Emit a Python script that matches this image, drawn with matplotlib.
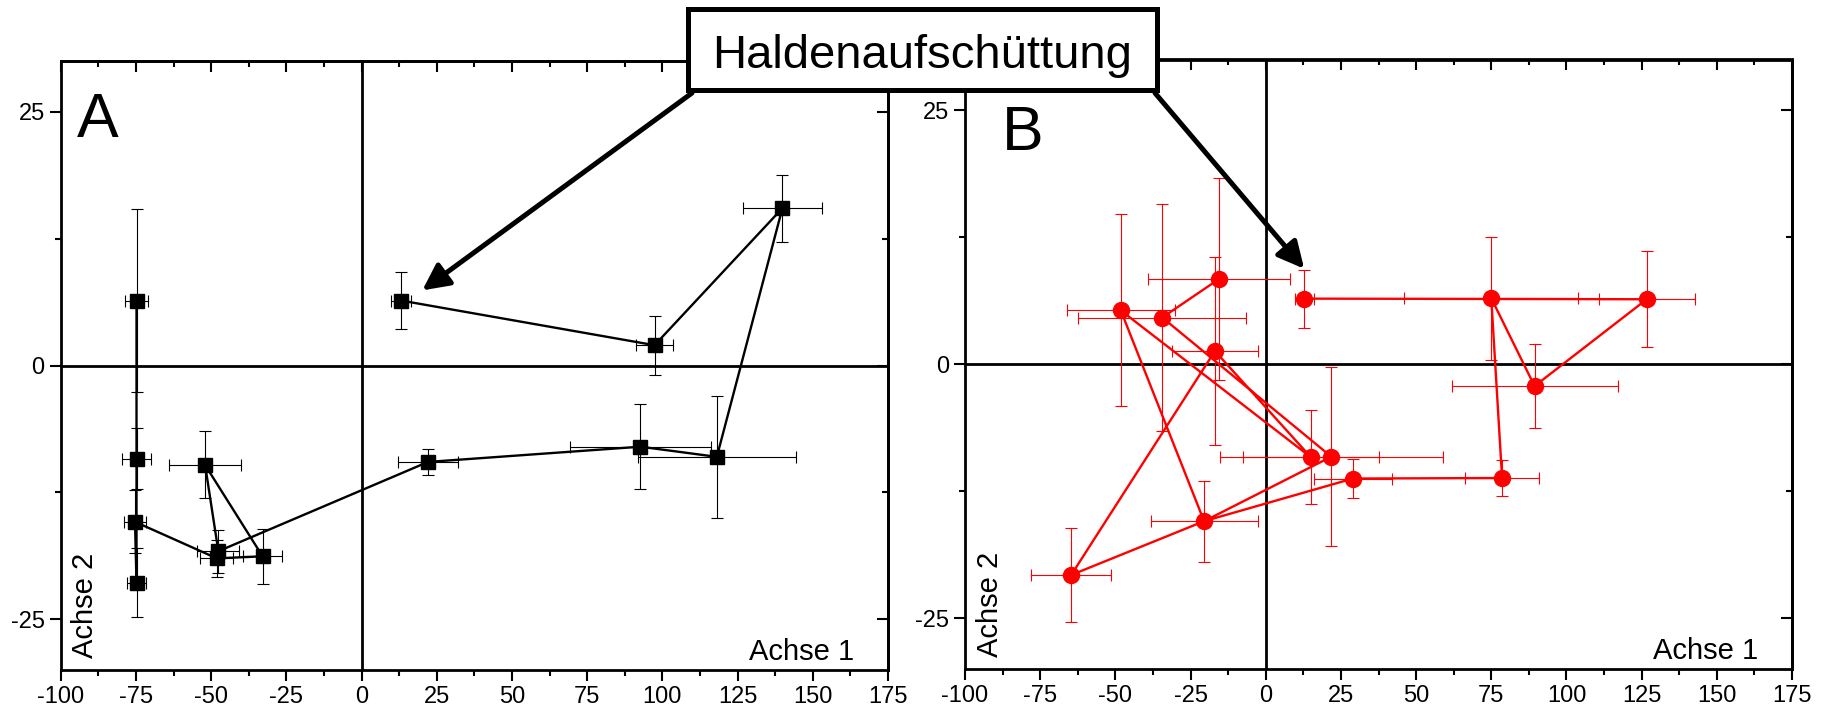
import matplotlib
matplotlib.use("Agg")
import matplotlib.pyplot as plt
from matplotlib import font_manager
from matplotlib.patches import Rectangle
from matplotlib.ticker import MultipleLocator

# panel A (black squares)
a_x = [-74.8, -74.8, -75.3, -74.8, -52.0, -47.6, -48.1, -32.9, 22.1, 92.7, 118.1, 139.9, 97.4, 13.1]
a_y = [6.4, -9.2, -15.4, -21.4, -9.8, -18.3, -19.0, -18.8, -9.5, -8.0, -9.0, 15.5, 2.0, 6.4]
a_xerr = [3.9, 4.7, 3.7, 3.0, 12.0, 7.0, 5.5, 6.6, 10.1, 23.3, 26.2, 13.0, 6.2, 3.4]
a_yerr = [9.0, 3.0, 3.1, 3.4, 3.3, 2.1, 1.8, 2.7, 1.3, 4.2, 6.0, 3.3, 2.9, 2.85]
a_order = [0, 1, 3, 2, 6, 7, 4, 5, 8, 9, 10, 11, 12, 13]

# panel B (red circles)
b_x = [12.8, 75.0, 126.7, 89.4, 78.6, 29.0, 21.8, 15.0, -20.5, -64.7, -16.9, -15.5, -48.2, -34.4]
b_y = [6.46, 6.5, 6.4, -2.15, -11.2, -11.25, -9.1, -9.15, -15.45, -20.75, 1.3, 8.4, 5.3, 4.6]
b_xerr = [3.1, 29.0, 16.0, 27.6, 12.2, 13.0, 37.1, 22.7, 17.8, 13.3, 14.2, 23.6, 18.0, 28.0]
b_yerr = [2.85, 6.05, 4.7, 4.1, 1.8, 1.95, 8.8, 4.65, 4.0, 4.6, 9.25, 9.95, 9.45, 11.2]
b_order = [11, 13, 6, 8, 12, 7, 10, 9, 8, 5, 4, 1, 3, 2, 0]

x_ticks = list(range(-100, 176, 25))
y_ticks = [-25, 0, 25]

names = {f.name for f in font_manager.fontManager.ttflist}
plt.rcParams["font.family"] = ["Liberation Sans", "DejaVu Sans"]
plt.rcParams["axes.unicode_minus"] = False
narrow = "Liberation Sans Narrow" if "Liberation Sans Narrow" in names else "Liberation Sans"

W, H = 1827, 714
fig = plt.figure(figsize=(W / 100, H / 100), dpi=100)


def panel(rect, xs, ys, xe, ye, order, color, marker, ms, letter, letter_pos):
    ax = fig.add_axes(rect)
    ax.axhline(0, color="black", lw=2, zorder=1)
    ax.axvline(0, color="black", lw=2, zorder=1)
    ax.errorbar(xs, ys, xerr=xe, yerr=ye, fmt="none", ecolor=color,
                elinewidth=0.8, capsize=4.5, capthick=0.8, zorder=2)
    ax.plot([xs[i] for i in order], [ys[i] for i in order], color=color, lw=1.7, zorder=3)
    ax.plot(xs, ys, ls="none", marker=marker, ms=ms, color=color, zorder=4)

    ax.set_xlim(-100, 175)
    ax.set_ylim(-30, 30)
    ax.set_xticks(x_ticks)
    ax.set_yticks(y_ticks)
    ax.xaxis.set_minor_locator(MultipleLocator(12.5))
    ax.yaxis.set_minor_locator(MultipleLocator(12.5))
    ax.tick_params(which="major", direction="out", length=8, width=1.5,
                   labelsize=17, pad=3.5, top=False, right=False)
    ax.tick_params(which="minor", direction="out", length=4.5, width=1.5,
                   top=False, right=False)
    for s in ax.spines.values():
        s.set_linewidth(2)

    top = ax.secondary_xaxis("top")
    top.set_xticks(x_ticks)
    top.xaxis.set_minor_locator(MultipleLocator(12.5))
    top.tick_params(which="major", direction="in", length=8, width=1.5, labeltop=False)
    top.tick_params(which="minor", direction="in", length=4.5, width=1.5)
    top.spines["top"].set_linewidth(2)

    right = ax.secondary_yaxis("right")
    right.set_yticks(y_ticks)
    right.yaxis.set_minor_locator(MultipleLocator(12.5))
    right.tick_params(which="major", direction="in", length=8, width=1.5, labelright=False)
    right.tick_params(which="minor", direction="in", length=4.5, width=1.5)
    right.spines["right"].set_linewidth(2)

    ax.text(letter_pos[0], letter_pos[1], letter, transform=ax.transAxes,
            fontsize=45, family=narrow, va="baseline", ha="left")
    ax.text(0.013, 0.02, "Achse 2", transform=ax.transAxes, rotation=90,
            fontsize=21, ha="left", va="bottom")
    ax.text(0.959, 0.017, "Achse 1", transform=ax.transAxes,
            fontsize=21, ha="right", va="baseline")
    return ax


ax_a = panel([60.7 / W, 1 - 670 / H, 827.3 / W, 609 / H], a_x, a_y, a_xerr, a_yerr,
             a_order, "black", "s", 10, "A", (0.02, 0.875))
ax_b = panel([965 / W, 1 - 669 / H, 827 / W, 609.5 / H], b_x, b_y, b_xerr, b_yerr,
             b_order, "#ff0000", "o", 11.5, "B", (0.045, 0.852))

# label box with arrows
arrow = dict(arrowstyle="-|>,head_length=0.8,head_width=0.4", lw=3.6, color="black",
             mutation_scale=20, shrinkA=0, shrinkB=0)
ax_a.annotate("", xy=(20.2, 7.4), xytext=(692 / W, 1 - 93 / H),
              textcoords="figure fraction", arrowprops=arrow)
ax_b.annotate("", xy=(12.8, 9.4), xytext=(1155 / W, 1 - 93 / H),
              textcoords="figure fraction", arrowprops=arrow)

fig.add_artist(Rectangle((688 / W, 1 - 90 / H), 469 / W, 81 / H, transform=fig.transFigure,
                         fc="white", ec="black", lw=3.6, zorder=10))
fig.text(922 / W, 1 - 68 / H, "Haldenaufschüttung", fontsize=34,
         ha="center", va="baseline", zorder=11)

fig.savefig("out.png", dpi=100)
